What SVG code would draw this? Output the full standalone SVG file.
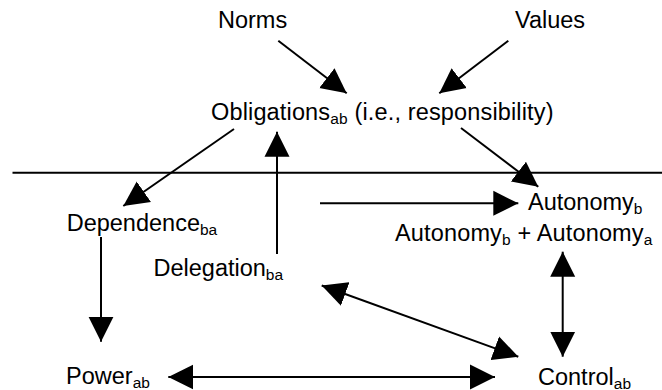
<svg xmlns="http://www.w3.org/2000/svg" width="662" height="390" viewBox="0 0 662 390">
<defs>
<marker id="ah" markerUnits="userSpaceOnUse" markerWidth="26" markerHeight="26" refX="25" refY="12.5" orient="auto-start-reverse" viewBox="0 0 26 25">
<path d="M0,0 L25,12.5 L0,25 z" fill="#000"/>
</marker>
<style>
text{font-family:"Liberation Sans",Arial,Helvetica,sans-serif;font-size:23.5px;fill:#000}
.sub{font-size:15.5px}
.c{stroke:#000;stroke-width:2;fill:none}
.a{marker-end:url(#ah)}
.d{marker-start:url(#ah);marker-end:url(#ah)}
</style>
</defs>
<rect width="662" height="390" fill="#fff"/>
<line x1="12.5" y1="172.7" x2="662" y2="172.7" stroke="#000" stroke-width="2"/>
<g id="connectors">
<line class="c a" x1="278.3" y1="40.7" x2="346.7" y2="93.3"/>
<line class="c a" x1="508.3" y1="40.7" x2="439.3" y2="93.3"/>
<line class="c a" x1="234" y1="129" x2="123.3" y2="206"/>
<line class="c a" x1="277" y1="254" x2="277" y2="131.7"/>
<line class="c a" x1="461" y1="128" x2="538.3" y2="186.7"/>
<line class="c a" x1="320" y1="203.3" x2="518.3" y2="203.3"/>
<line class="c a" x1="101" y1="237" x2="101" y2="341.7"/>
<line class="c d" x1="321.7" y1="285.5" x2="518.3" y2="356.7"/>
<line class="c d" x1="562.7" y1="251.7" x2="562.7" y2="356.7"/>
<line class="c d" x1="168.3" y1="377" x2="495" y2="377"/>
</g>
<g id="norms"><text x="218" y="28">Norms</text></g>
<g id="values"><text x="515" y="28">Values</text></g>
<g id="obligations"><text x="211" y="120" letter-spacing="0.15">Obligations<tspan class="sub" dy="3.5">ab</tspan><tspan dy="-3.5"> (i.e., responsibility)</tspan></text></g>
<g id="dependence"><text x="66.7" y="231">Dependence<tspan class="sub" dy="3.5">ba</tspan></text></g>
<g id="delegation"><text x="153.5" y="276">Delegation<tspan class="sub" dy="3.5">ba</tspan></text></g>
<g id="autonomy-b"><text x="528" y="210">Autonomy<tspan class="sub" dy="3.5">b</tspan></text></g>
<g id="autonomy-ab"><text x="395" y="241" letter-spacing="0.15">Autonomy<tspan class="sub" dy="3.5">b</tspan><tspan dy="-3.5"> + Autonomy</tspan><tspan class="sub" dy="3.5">a</tspan></text></g>
<g id="power"><text x="66" y="384">Power<tspan class="sub" dy="3.5">ab</tspan></text></g>
<g id="control"><text x="538" y="385">Control<tspan class="sub" dy="3.5">ab</tspan></text></g>
</svg>
